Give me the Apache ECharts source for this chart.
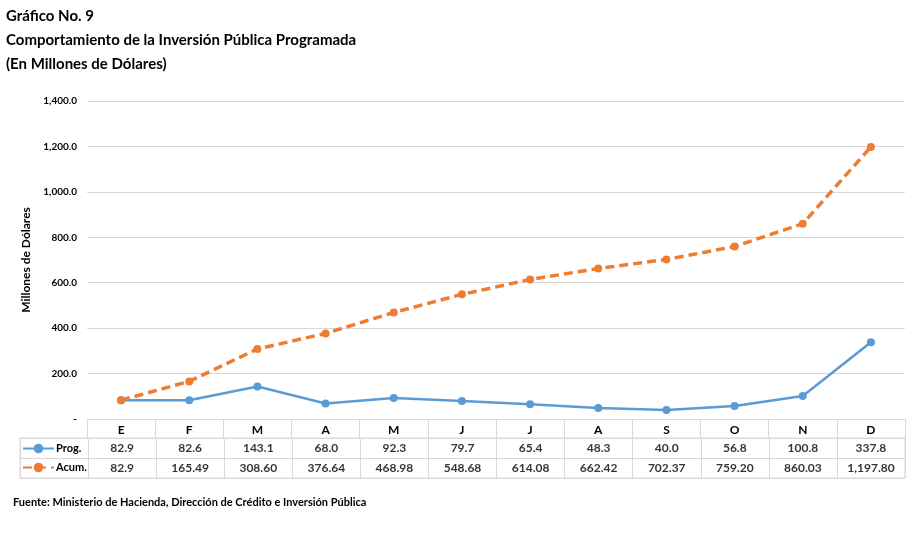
<!DOCTYPE html>
<html>
<head>
<meta charset="utf-8">
<script src="https://cdn.jsdelivr.net/npm/echarts@6/dist/echarts.min.js"></script>
<style>html,body{margin:0;padding:0;background:#fff}#c{width:920px;height:533px}</style>
</head>
<body>
<div id="c"></div>
<script>
var months = ['E','F','M','A','M','J','J','A','S','O','N','D'];
var prog = [82.9, 82.6, 143.1, 68.0, 92.3, 79.7, 65.4, 48.3, 40.0, 56.8, 100.8, 337.8];
var acum = [82.9, 165.49, 308.60, 376.64, 468.98, 548.68, 614.08, 662.42, 702.37, 759.20, 860.03, 1197.80];
var progLabels = ['82.9','82.6','143.1','68.0','92.3','79.7','65.4','48.3','40.0','56.8','100.8','337.8'];
var acumLabels = ['82.9','165.49','308.60','376.64','468.98','548.68','614.08','662.42','702.37','759.20','860.03','1,197.80'];
var yTicks = [0, 200, 400, 600, 800, 1000, 1200, 1400];

var FONT = 'Lato';
var GRID_C = '#d9d9d9';
var BLUE = '#5b9bd5';
var ORANGE = '#ed7d31';

function fmtTick(v) {
  if (v === 0) return '-';
  return v.toLocaleString('en-US', {minimumFractionDigits: 1, maximumFractionDigits: 1});
}

var tableCats = [''].concat(months.map(function (m, i) { return m + '_' + i; }));
var tableData = [];
months.forEach(function (m, i) {
  tableData.push({value: [i + 1, 0], text: progLabels[i]});
  tableData.push({value: [i + 1, 1], text: acumLabels[i]});
});

var chart = echarts.init(document.getElementById('c'), null, {renderer: 'canvas'});
chart.setOption({
  animation: false,
  textStyle: {fontFamily: FONT},
  title: [
    {
      text: 'Gráfico No. 9\nComportamiento de la Inversión Pública Programada\n(En Millones de Dólares)',
      left: 1, top: -1,
      textStyle: {fontFamily: FONT, fontSize: 15, fontWeight: 'bold', color: '#000', lineHeight: 24}
    },
    {
      text: 'Fuente: Ministerio de Hacienda, Dirección de Crédito e Inversión Pública',
      left: 8, top: 492,
      textStyle: {fontFamily: FONT, fontSize: 11, fontWeight: 'bold', color: '#000'}
    }
  ],
  legend: {
    orient: 'vertical',
    left: 22, top: 443,
    padding: 0,
    itemGap: 8, itemWidth: 31, itemHeight: 12,
    data: ['Prog.', 'Acum.'],
    textStyle: {fontFamily: FONT, fontSize: 11, fontWeight: 'bold', color: '#000', padding: [1, 0, 0, -3]}
  },
  grid: [
    {left: 87, right: 15, top: 101, bottom: 114},
    {left: 20, right: 15, top: 438, height: 40, show: true, borderColor: GRID_C, borderWidth: 1, backgroundColor: 'transparent'}
  ],
  xAxis: [
    {
      type: 'category', gridIndex: 0, data: months, boundaryGap: true,
      axisLine: {show: true, lineStyle: {color: GRID_C, width: 1}},
      axisTick: {show: true, length: 19, lineStyle: {color: GRID_C}},
      axisLabel: {margin: 5, fontFamily: FONT, fontSize: 12, fontWeight: 'bold', color: '#000'},
      splitLine: {show: false}
    },
    {
      type: 'category', gridIndex: 1, data: tableCats, boundaryGap: true,
      axisLine: {show: false}, axisTick: {show: false}, axisLabel: {show: false, interval: 0},
      splitLine: {show: true, interval: 0, lineStyle: {color: GRID_C, width: 1}}
    }
  ],
  yAxis: [
    {
      type: 'value', gridIndex: 0, min: 0, max: 1400, interval: 200,
      name: 'Millones de Dólares', nameLocation: 'middle', nameGap: 46, nameRotate: 90,
      nameTextStyle: {fontFamily: FONT, fontSize: 12, fontWeight: 'bold', color: '#000'},
      axisLine: {show: false}, axisTick: {show: false},
      axisLabel: {margin: 10, fontFamily: FONT, fontSize: 10, fontWeight: 'bold', color: '#000', formatter: fmtTick},
      splitLine: {show: true, lineStyle: {color: GRID_C, width: 1}}
    },
    {
      type: 'category', gridIndex: 1, data: ['Prog.', 'Acum.'], inverse: true,
      axisLine: {show: false}, axisTick: {show: false}, axisLabel: {show: false},
      splitLine: {show: true, lineStyle: {color: GRID_C, width: 1}}
    }
  ],
  series: [
    {
      name: 'Prog.', type: 'line', xAxisIndex: 0, yAxisIndex: 0, data: prog,
      symbol: 'circle', symbolSize: 8,
      lineStyle: {color: BLUE, width: 2.5},
      itemStyle: {color: BLUE}
    },
    {
      name: 'Acum.', type: 'line', xAxisIndex: 0, yAxisIndex: 0, data: acum,
      symbol: 'circle', symbolSize: 8,
      lineStyle: {color: ORANGE, width: 3.5, type: [9, 5]},
      itemStyle: {color: ORANGE}
    },
    {
      name: 'table', type: 'scatter', xAxisIndex: 1, yAxisIndex: 1, data: tableData,
      symbolSize: 0, silent: true,
      label: {
        show: true, position: 'inside',
        fontFamily: FONT, fontSize: 12, fontWeight: 'bold', color: '#000',
        formatter: function (p) { return p.data.text; }
      }
    }
  ]
});
</script>
</body>
</html>
